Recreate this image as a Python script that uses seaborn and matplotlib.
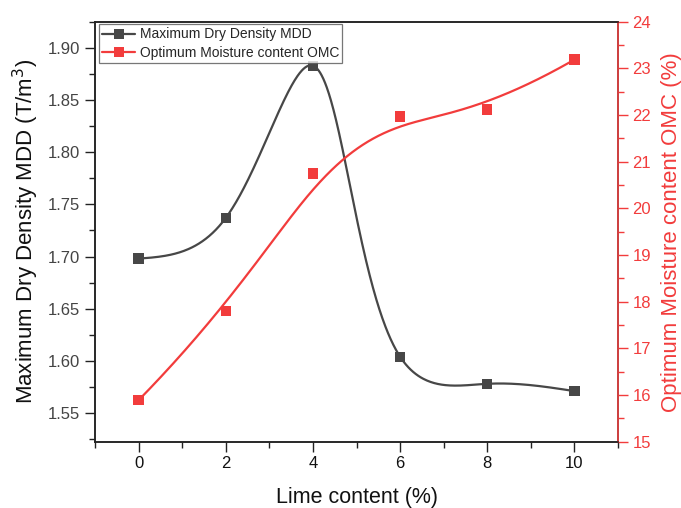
import numpy as np
import pandas as pd
import matplotlib
matplotlib.use("Agg")
import matplotlib.pyplot as plt
from matplotlib.lines import Line2D
from matplotlib.ticker import MultipleLocator
import seaborn as sns

# ---- data ----
lime = [0, 2, 4, 6, 8, 10]
mdd = [1.698, 1.737, 1.883, 1.604, 1.578, 1.571]
omc = [15.89, 17.80, 20.75, 21.97, 22.12, 23.19]
xticks = [0, 2, 4, 6, 8, 10]
left_ticks = [1.55, 1.60, 1.65, 1.70, 1.75, 1.80, 1.85, 1.90]
right_ticks = [15, 16, 17, 18, 19, 20, 21, 22, 23, 24]

BLACK = "#474747"
RED = "#f23c3c"

XLIM = (-1, 11)
YLIM = (1.5225, 1.925)
Y2LIM = (15, 24)
AX_W_PX, AX_H_PX = 523.0, 420.0


def nat_coeffs(t, y):
    k = len(t); h = np.diff(t)
    A = np.zeros((k, k)); b = np.zeros(k)
    A[0, 0] = A[-1, -1] = 1
    for i in range(1, k - 1):
        A[i, i - 1] = h[i - 1]; A[i, i] = 2 * (h[i - 1] + h[i]); A[i, i + 1] = h[i]
        b[i] = 6 * ((y[i + 1] - y[i]) / h[i] - (y[i] - y[i - 1]) / h[i - 1])
    return np.linalg.solve(A, b)


def nat_eval(t, y, M, ts):
    k = len(t)
    idx = np.clip(np.searchsorted(t, ts) - 1, 0, k - 2)
    t0, t1 = t[idx], t[idx + 1]; hh = t1 - t0
    a = (t1 - ts) / hh; bb = (ts - t0) / hh
    return a * y[idx] + bb * y[idx + 1] + ((a**3 - a) * M[idx] + (bb**3 - bb) * M[idx + 1]) * hh**2 / 6


def param_spline(x, y, ylim, alpha=0.5, n=600):
    x = np.asarray(x, float); y = np.asarray(y, float)
    px = x * AX_W_PX / (XLIM[1] - XLIM[0])
    py = y * AX_H_PX / (ylim[1] - ylim[0])
    d = np.hypot(np.diff(px), np.diff(py)) ** alpha
    t = np.concatenate([[0], np.cumsum(d)])
    Mx = nat_coeffs(t, px); My = nat_coeffs(t, py)
    ts = np.linspace(0, t[-1], n)
    sx = nat_eval(t, px, Mx, ts) * (XLIM[1] - XLIM[0]) / AX_W_PX
    sy = nat_eval(t, py, My, ts) * (ylim[1] - ylim[0]) / AX_H_PX
    return sx, sy


def bspline(x, y, n=400, p=3):
    P = np.column_stack([x, y]).astype(float)
    m = len(P)
    inner = np.arange(1, m - p)
    t = np.concatenate([np.zeros(p + 1), inner, np.full(p + 1, m - p)]).astype(float)
    u = np.linspace(0, m - p, n)
    u[-1] -= 1e-9
    N = np.zeros((n, len(t) - 1))
    for i in range(len(t) - 1):
        N[:, i] = ((u >= t[i]) & (u < t[i + 1])).astype(float)
    for d in range(1, p + 1):
        Nn = np.zeros((n, len(t) - 1 - d))
        for i in range(len(t) - 1 - d):
            term = 0
            if t[i + d] != t[i]:
                term = (u - t[i]) / (t[i + d] - t[i]) * N[:, i]
            if t[i + d + 1] != t[i + 1]:
                term = term + (t[i + d + 1] - u) / (t[i + d + 1] - t[i + 1]) * N[:, i + 1]
            Nn[:, i] = term
        N = Nn
    C = N @ P
    return C[:, 0], C[:, 1]


sns.set_theme(style="white")
plt.rcParams["font.family"] = ["Liberation Sans", "DejaVu Sans"]

fig = plt.figure(figsize=(6.81, 5.08), dpi=100)
ax = fig.add_axes([0.1395, 0.1305, 0.768, 0.8265])
ax2 = ax.twinx()

xs, ys = param_spline(lime, mdd, YLIM, alpha=0.5)
sns.lineplot(x=xs, y=ys, ax=ax, color=BLACK, lw=1.6, sort=False, estimator=None)
sns.scatterplot(x=lime, y=mdd, ax=ax, color=BLACK, marker="s", s=55, edgecolor="none", zorder=5)

bx, by = bspline(lime, omc)
sns.lineplot(x=bx, y=by, ax=ax2, color=RED, lw=1.6, sort=False, estimator=None)
sns.scatterplot(x=lime, y=omc, ax=ax2, color=RED, marker="s", s=55, edgecolor="none", zorder=5)

ax.set_xlim(*XLIM)
ax.set_ylim(*YLIM)
ax2.set_ylim(*Y2LIM)
ax.set_xticks(xticks)
ax.xaxis.set_minor_locator(MultipleLocator(1))
ax.set_yticks(left_ticks)
ax.set_yticklabels([f"{v:.2f}" for v in left_ticks])
ax.yaxis.set_minor_locator(MultipleLocator(0.025))
ax2.set_yticks(right_ticks)
ax2.yaxis.set_minor_locator(MultipleLocator(0.5))

for a in (ax, ax2):
    for s in a.spines.values():
        s.set_linewidth(1.1)
        s.set_color("#222222")
ax2.spines["right"].set_color(RED)

ax.tick_params(axis="both", which="major", direction="out", length=7, width=1, color="#222222",
               labelsize=12, labelcolor="#444444", bottom=True, left=True)
ax.tick_params(axis="both", which="minor", direction="out", length=4, width=1, color="#222222",
               bottom=True, left=True)
ax.tick_params(axis="x", labelcolor="#111111")
ax2.tick_params(axis="y", which="major", direction="out", length=7, width=1, color=RED,
                labelsize=12, labelcolor=RED, right=True)
ax2.tick_params(axis="y", which="minor", direction="out", length=4, width=1, color=RED, right=True)

ax.set_xlabel("Lime content (%)", fontsize=15.5, color="#111111", labelpad=11)
ax.set_ylabel("Maximum Dry Density MDD (T/m$^3$)", fontsize=16, color="#111111", labelpad=5)
ax2.set_ylabel("Optimum Moisture content OMC (%)", fontsize=16, color=RED, labelpad=7)
ax.grid(False); ax2.grid(False)

handles = [
    Line2D([], [], color=BLACK, lw=1.6, marker="s", markersize=7, markeredgewidth=0),
    Line2D([], [], color=RED, lw=1.6, marker="s", markersize=7, markeredgewidth=0),
]
leg = ax.legend(handles, ["Maximum Dry Density MDD", "Optimum Moisture content OMC"],
                loc="upper left", bbox_to_anchor=(0.007, 0.995), fontsize=10, frameon=True,
                fancybox=False, edgecolor="#555555", handlelength=2.4, handletextpad=0.3,
                borderpad=0.25, labelspacing=0.3, borderaxespad=0.0)
leg.get_frame().set_linewidth(0.9)

fig.savefig("out.png", dpi=100)
